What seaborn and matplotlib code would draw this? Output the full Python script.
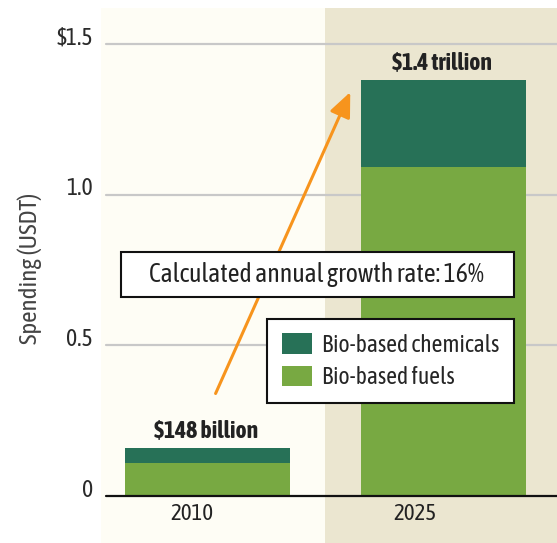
import matplotlib
matplotlib.use("Agg")
import matplotlib.pyplot as plt
import matplotlib.transforms as mtransforms
from matplotlib.patches import Rectangle
import seaborn as sns
import pandas as pd

years = ["2010", "2025"]
fuels = [0.11, 1.09]
chemicals = [0.05, 0.29]
totals = [f + c for f, c in zip(fuels, chemicals)]
total_labels = ["$148 billion", "$1.4 trillion"]
ytick_vals = [0, 0.5, 1.0, 1.5]
ytick_labels = ["0", "0.5", "1.0", "$1.5"]
series_names = ["Bio-based chemicals", "Bio-based fuels"]
note = "Calculated annual growth rate: 16%"

C_CHEM = "#277157"
C_FUEL = "#78a942"
BG_LEFT = "#fefdf5"
BG_RIGHT = "#ebe6d0"
ORANGE = "#f7941d"

sns.set_style("white")
plt.rcParams["font.family"] = ["Asap Condensed", "DejaVu Sans"]

df = pd.DataFrame({"year": years, "fuels": fuels, "chem": chemicals, "total": totals})

fig = plt.figure(figsize=(5.57, 5.43), dpi=100)
ax = fig.add_axes([101 / 557, 0.0, 1 - 101 / 557, 535 / 543])
ax.set_facecolor(BG_LEFT)

sns.barplot(data=df, x="year", y="total", color=C_CHEM, width=0.7, ax=ax,
            saturation=1, label=series_names[0], zorder=3, linewidth=0)
sns.barplot(data=df, x="year", y="fuels", color=C_FUEL, width=0.7, ax=ax,
            saturation=1, label=series_names[1], zorder=3, linewidth=0)

ax.set_xlim(-0.45, 1.48)
ax.set_ylim(-0.156, 1.619)
ax.axvspan(0.5, 1.48, color=BG_RIGHT, zorder=0, lw=0)

for v in ytick_vals[1:]:
    ax.axhline(v, color="#c8c8c8", lw=1.6, zorder=1, xmin=0.011)
ax.axhline(0, color="#111111", lw=1.6, zorder=4, xmin=0.011)

for s in ax.spines.values():
    s.set_visible(False)

ax.set_yticks(ytick_vals)
ax.set_yticklabels([t.replace("$", r"\$") for t in ytick_labels])
ax.tick_params(axis="y", length=0, pad=6, labelsize=17, labelcolor="#2a2a2a")
off = mtransforms.ScaledTranslation(0, 6 / 72, fig.dpi_scale_trans)
for lab in ax.get_yticklabels():
    lab.set_transform(lab.get_transform() + off)
ax.set_xticks([])
ax.set_xlabel("")
ax.set_ylabel("Spending (USDT)", fontsize=18, color="#444444")
ax.yaxis.set_label_coords(-0.129, 0.514)

xlab_pos = [-0.064, 0.88]
for i, y in enumerate(years):
    ax.text(xlab_pos[i], -0.06, y, ha="center", va="center", fontsize=16.5, color="#222222")

for i, t in enumerate(total_labels):
    ax.text(i - 0.005, totals[i] + 0.055, t.replace("$", r"\$"), ha="center", va="center",
            fontsize=17, fontweight="bold", color="#222222", zorder=5)

ax.annotate("", xy=(0.605, 1.34), xytext=(0.035, 0.34),
            arrowprops=dict(arrowstyle="-|>,head_length=1.5,head_width=0.65",
                            color=ORANGE, lw=2.2, shrinkA=0, shrinkB=0), zorder=5)

ax.add_patch(Rectangle((0.0439, 0.460), 0.906 - 0.0439, 0.544 - 0.460,
                       transform=ax.transAxes, fc="white", ec="#111111", lw=1.5, zorder=7))
ax.text(0.46, 0.735, note, ha="center", va="center", fontsize=18.5, color="#222222",
        zorder=8)

leg = ax.legend(loc="upper left", bbox_to_anchor=(0.364, 0.419), borderaxespad=0,
                fontsize=17, frameon=True, fancybox=False, edgecolor="#111111",
                facecolor="white", framealpha=1, handlelength=1.27, handleheight=0.93,
                borderpad=0.62, labelspacing=0.38, handletextpad=0.42)
leg.get_frame().set_linewidth(1.5)
leg.set_zorder(9)

fig.savefig("out.png", dpi=100, facecolor="white")
